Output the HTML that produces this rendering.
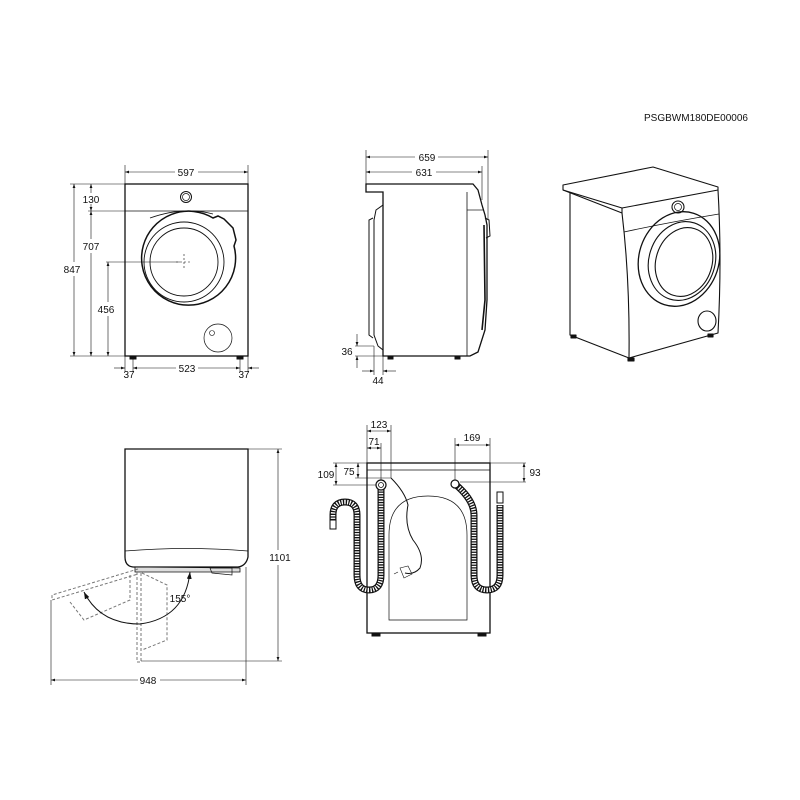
<!DOCTYPE html>
<html><head><meta charset="utf-8"><style>
html,body{margin:0;padding:0;background:#fff}
svg{display:block}
text{font-family:"Liberation Sans",Arial,sans-serif;font-size:10px;fill:#111}
</style></head><body>
<svg width="800" height="800" viewBox="0 0 800 800" xmlns="http://www.w3.org/2000/svg">
<defs>
<marker id="a" viewBox="0 0 10 10" refX="10" refY="5" markerWidth="7" markerHeight="7" orient="auto-start-reverse"><path d="M0,1.5 L10,5 L0,8.5 z" fill="#111"/></marker>
</defs>
<text x="696" y="121" text-anchor="middle" font-size="10">PSGBWM180DE00006</text>

<!-- FRONT VIEW -->
<g fill="none" stroke="#111">
<rect x="125" y="184" width="123" height="172" stroke-width="1.3"/>
<line x1="125" y1="211" x2="248" y2="211" stroke-width="0.7"/>
<circle cx="186" cy="197" r="5.5" stroke-width="1"/><circle cx="186" cy="197" r="3.5" stroke-width="0.7"/>
<path d="M213,218 A47,47 0 1 0 234,246 L236,240 L233,228 L224,219 L218,216 Z" stroke-width="1.5"/>
<path d="M150,218 Q184,206 213,214" stroke-width="0.8"/>
<circle cx="184" cy="262" r="40" stroke-width="0.9"/>
<circle cx="184" cy="262" r="34" stroke-width="0.9"/>
<circle cx="218" cy="338" r="14" stroke-width="0.7"/><circle cx="212" cy="333" r="2.5" stroke-width="0.6"/>
<rect x="130" y="356" width="6" height="3" fill="#111"/><rect x="237" y="356" width="6" height="3" fill="#111"/>
<g stroke-width="0.6" stroke-dasharray="2,2"><line x1="176" y1="262" x2="192" y2="262"/><line x1="184" y1="254" x2="184" y2="270"/></g>
<g stroke-width="0.6">
<line x1="125" y1="165" x2="125" y2="184"/><line x1="248" y1="165" x2="248" y2="184"/>
<line x1="125" y1="172" x2="175" y2="172" marker-start="url(#a)"/><line x1="198" y1="172" x2="248" y2="172" marker-end="url(#a)"/>
<line x1="70" y1="184" x2="125" y2="184"/><line x1="88" y1="211" x2="125" y2="211"/>
<line x1="106" y1="262" x2="180" y2="262"/><line x1="70" y1="356" x2="125" y2="356"/>
<line x1="74" y1="184" x2="74" y2="262" marker-start="url(#a)"/><line x1="74" y1="276" x2="74" y2="356" marker-end="url(#a)"/>
<line x1="91" y1="184" x2="91" y2="193" marker-start="url(#a)"/><line x1="91" y1="204" x2="91" y2="211" marker-end="url(#a)"/>
<line x1="91" y1="211" x2="91" y2="239" marker-start="url(#a)"/><line x1="91" y1="253" x2="91" y2="356" marker-end="url(#a)"/>
<line x1="108" y1="262" x2="108" y2="302" marker-start="url(#a)"/><line x1="108" y1="316" x2="108" y2="356" marker-end="url(#a)"/>
<line x1="125" y1="356" x2="125" y2="372"/><line x1="133" y1="359" x2="133" y2="372"/>
<line x1="240" y1="359" x2="240" y2="372"/><line x1="248" y1="356" x2="248" y2="372"/>
<line x1="114" y1="368" x2="125" y2="368" marker-end="url(#a)"/>
<line x1="133" y1="368" x2="176" y2="368" marker-start="url(#a)"/><line x1="198" y1="368" x2="240" y2="368" marker-end="url(#a)"/>
<line x1="259" y1="368" x2="248" y2="368" marker-end="url(#a)"/>
</g></g>
<text x="186" y="176" text-anchor="middle">597</text>
<text x="91" y="203" text-anchor="middle">130</text>
<text x="91" y="250" text-anchor="middle">707</text>
<text x="72" y="273" text-anchor="middle">847</text>
<text x="106" y="313" text-anchor="middle">456</text>
<text x="129" y="378" text-anchor="middle">37</text>
<text x="187" y="372" text-anchor="middle">523</text>
<text x="244" y="378" text-anchor="middle">37</text>

<!-- SIDE VIEW -->
<g fill="none" stroke="#111">
<path d="M366,184 L473,184 L478,190 L482,205 L485,215 L487,225 L487,300 L485,330 L478,352 L470,356 L383,356 L383,192 L366,192 Z" stroke-width="1.3"/>
<line x1="467" y1="192" x2="467" y2="356" stroke-width="0.8"/>
<line x1="467" y1="210" x2="483" y2="210" stroke-width="0.7"/>
<path d="M383,205 L376,210 L374,220 L374,335 L378,346 L383,350" stroke-width="1"/>
<path d="M373,218 L369,220 L369,335 L373,338" stroke-width="1"/>
<path d="M485,218 L489,220 L490,236 L486,238" stroke-width="1"/>
<path d="M484,225 L485,300 L482,330" stroke-width="1.6"/>
<rect x="388" y="356" width="5" height="3" fill="#111"/><rect x="455" y="356" width="5" height="3" fill="#111"/>
<g stroke-width="0.6">
<line x1="366" y1="150" x2="366" y2="184"/><line x1="488" y1="150" x2="488" y2="220"/><line x1="482" y1="166" x2="482" y2="200"/>
<line x1="366" y1="157" x2="415" y2="157" marker-start="url(#a)"/><line x1="438" y1="157" x2="488" y2="157" marker-end="url(#a)"/>
<line x1="366" y1="172" x2="412" y2="172" marker-start="url(#a)"/><line x1="436" y1="172" x2="482" y2="172" marker-end="url(#a)"/>
<line x1="355" y1="346" x2="374" y2="346"/><line x1="355" y1="356" x2="383" y2="356"/>
<line x1="357" y1="334" x2="357" y2="346" marker-end="url(#a)"/><line x1="357" y1="368" x2="357" y2="356" marker-end="url(#a)"/>
<line x1="374" y1="346" x2="374" y2="375"/><line x1="383" y1="356" x2="383" y2="375"/>
<line x1="362" y1="371" x2="374" y2="371" marker-end="url(#a)"/><line x1="396" y1="371" x2="383" y2="371" marker-end="url(#a)"/>
</g></g>
<text x="427" y="161" text-anchor="middle">659</text>
<text x="424" y="176" text-anchor="middle">631</text>
<text x="347" y="355" text-anchor="middle">36</text>
<text x="378" y="384" text-anchor="middle">44</text>

<!-- 3D VIEW -->
<g fill="none" stroke="#111" stroke-width="1.1" stroke-linejoin="round">
<path d="M563,185 L653,167 L718,187 L718,190 L622,208 L563,190 Z"/>
<path d="M563,190 L622,213 L622,208"/>
<path d="M570,192 L570,335 L629,358"/>
<path d="M622,213 Q630,280 629,358 L718,333 Q722,260 718,190"/>
<path d="M624,232 Q670,222 719,214" stroke-width="0.8"/>
<circle cx="678" cy="207" r="6"/><circle cx="678" cy="207" r="3.5" stroke-width="0.7"/>
<ellipse cx="679" cy="259" rx="40" ry="48" transform="rotate(18 679 259)" stroke-width="1.3"/>
<ellipse cx="682" cy="261" rx="33" ry="40" transform="rotate(18 682 261)"/>
<ellipse cx="684" cy="262" rx="28" ry="35" transform="rotate(18 684 262)"/>
<ellipse cx="707" cy="321" rx="9" ry="10"/>
<rect x="571" y="335" width="5" height="3" fill="#111"/><rect x="628" y="358" width="6" height="3" fill="#111"/><rect x="708" y="334" width="5" height="3" fill="#111"/>
</g>

<!-- TOP VIEW (door open) -->
<g fill="none" stroke="#111">
<path d="M125,449 L248,449 L248,557 Q246,566 238,567 L133,567 Q125,566 125,557 Z" stroke-width="1.3"/>
<path d="M125,551 Q186,546 248,551" stroke-width="0.7"/>
<path d="M135,567 L240,568 L240,572 L135,572 Z" fill="#ddd" stroke-width="0.8"/>
<path d="M210,568 L232,568 L232,575 L212,573 Z" stroke-width="0.7"/>
<g stroke="#777" stroke-width="1" stroke-dasharray="3,2">
<path d="M138,569 L52,595 L52,600 L138,574"/>
<path d="M70,602 L84,620 L130,600 L130,575"/>
<path d="M137,572 L137,662 L141,662 L141,572"/>
<path d="M142,573 L167,585 L167,640 L142,650"/>
</g>
<path d="M190,572 Q185,618 140,624 Q100,624 84,592" stroke-width="1" marker-start="url(#a)" marker-end="url(#a)"/>
<g stroke-width="0.6">
<line x1="248" y1="449" x2="282" y2="449"/><line x1="141" y1="661" x2="282" y2="661"/>
<line x1="278" y1="449" x2="278" y2="550" marker-start="url(#a)"/><line x1="278" y1="565" x2="278" y2="661" marker-end="url(#a)"/>
<line x1="51" y1="600" x2="51" y2="685"/><line x1="246" y1="567" x2="246" y2="685"/>
<line x1="51" y1="680" x2="138" y2="680" marker-start="url(#a)"/><line x1="160" y1="680" x2="246" y2="680" marker-end="url(#a)"/>
</g></g>
<text x="280" y="561" text-anchor="middle">1101</text>
<text x="148" y="684" text-anchor="middle">948</text>
<text x="180" y="602" text-anchor="middle">155°</text>

<!-- REAR VIEW -->
<g fill="none" stroke="#111">
<rect x="367" y="463" width="123" height="170" stroke-width="1.3"/>
<line x1="367" y1="470" x2="490" y2="470" stroke-width="0.8"/>
<path d="M389,620 L389,535 Q389,496 428,496 Q467,496 467,535 L467,620 Z" stroke-width="0.7"/>
<rect x="372" y="633" width="8" height="3" fill="#111"/><rect x="478" y="633" width="8" height="3" fill="#111"/>
<g stroke-linecap="butt">
<path d="M381,485 L381,575 Q381,590 369,590 Q357,590 357,575 L357,515 Q357,502 345,502 Q333,502 333,515 L333,522" stroke="#111" stroke-width="7"/>
<path d="M381,485 L381,575 Q381,590 369,590 Q357,590 357,575 L357,515 Q357,502 345,502 Q333,502 333,515 L333,522" stroke="#fff" stroke-width="4.5" stroke-dasharray="1.3,1.3"/>
<path d="M455,484 Q474,500 474,515 L474,575 Q474,590 487,590 Q500,590 500,575 L500,505" stroke="#111" stroke-width="7"/>
<path d="M455,484 Q474,500 474,515 L474,575 Q474,590 487,590 Q500,590 500,575 L500,505" stroke="#fff" stroke-width="4.5" stroke-dasharray="1.3,1.3"/>
</g>
<circle cx="381" cy="485" r="5" fill="#fff" stroke-width="1.2"/><circle cx="381" cy="485" r="2.5" stroke-width="0.8"/>
<circle cx="455" cy="484" r="4" fill="#fff" stroke-width="1.2"/>
<rect x="330" y="520" width="6" height="9" fill="#fff" stroke-width="1"/>
<rect x="497" y="492" width="6" height="11" fill="#fff" stroke-width="1"/>
<path d="M391,478 Q405,492 408,505 Q404,525 413,540 Q425,555 420,568 Q414,575 405,573" stroke-width="1"/>
<path d="M400,568 L408,566 L412,574 L404,578 Z M398,572 L394,574" stroke-width="0.6"/>
<g stroke-width="0.6">
<line x1="367" y1="425" x2="367" y2="463"/><line x1="391" y1="425" x2="391" y2="478"/><line x1="381" y1="443" x2="381" y2="480"/>
<line x1="367" y1="431" x2="391" y2="431" marker-start="url(#a)" marker-end="url(#a)"/>
<line x1="367" y1="448" x2="381" y2="448" marker-start="url(#a)" marker-end="url(#a)"/>
<line x1="455" y1="438" x2="455" y2="480"/><line x1="490" y1="438" x2="490" y2="463"/>
<line x1="455" y1="445" x2="490" y2="445" marker-start="url(#a)" marker-end="url(#a)"/>
<line x1="333" y1="463" x2="367" y2="463"/><line x1="333" y1="485" x2="376" y2="485"/><line x1="355" y1="478" x2="391" y2="478"/>
<line x1="336" y1="463" x2="336" y2="485" marker-start="url(#a)" marker-end="url(#a)"/>
<line x1="358" y1="463" x2="358" y2="478" marker-start="url(#a)" marker-end="url(#a)"/>
<line x1="490" y1="463" x2="526" y2="463"/><line x1="460" y1="482" x2="526" y2="482"/>
<line x1="524" y1="463" x2="524" y2="482" marker-start="url(#a)" marker-end="url(#a)"/>
</g></g>
<text x="379" y="428" text-anchor="middle">123</text>
<text x="374" y="445" text-anchor="middle">71</text>
<text x="472" y="441" text-anchor="middle">169</text>
<text x="326" y="478" text-anchor="middle">109</text>
<text x="349" y="475" text-anchor="middle">75</text>
<text x="535" y="476" text-anchor="middle">93</text>
</svg>
</body></html>
